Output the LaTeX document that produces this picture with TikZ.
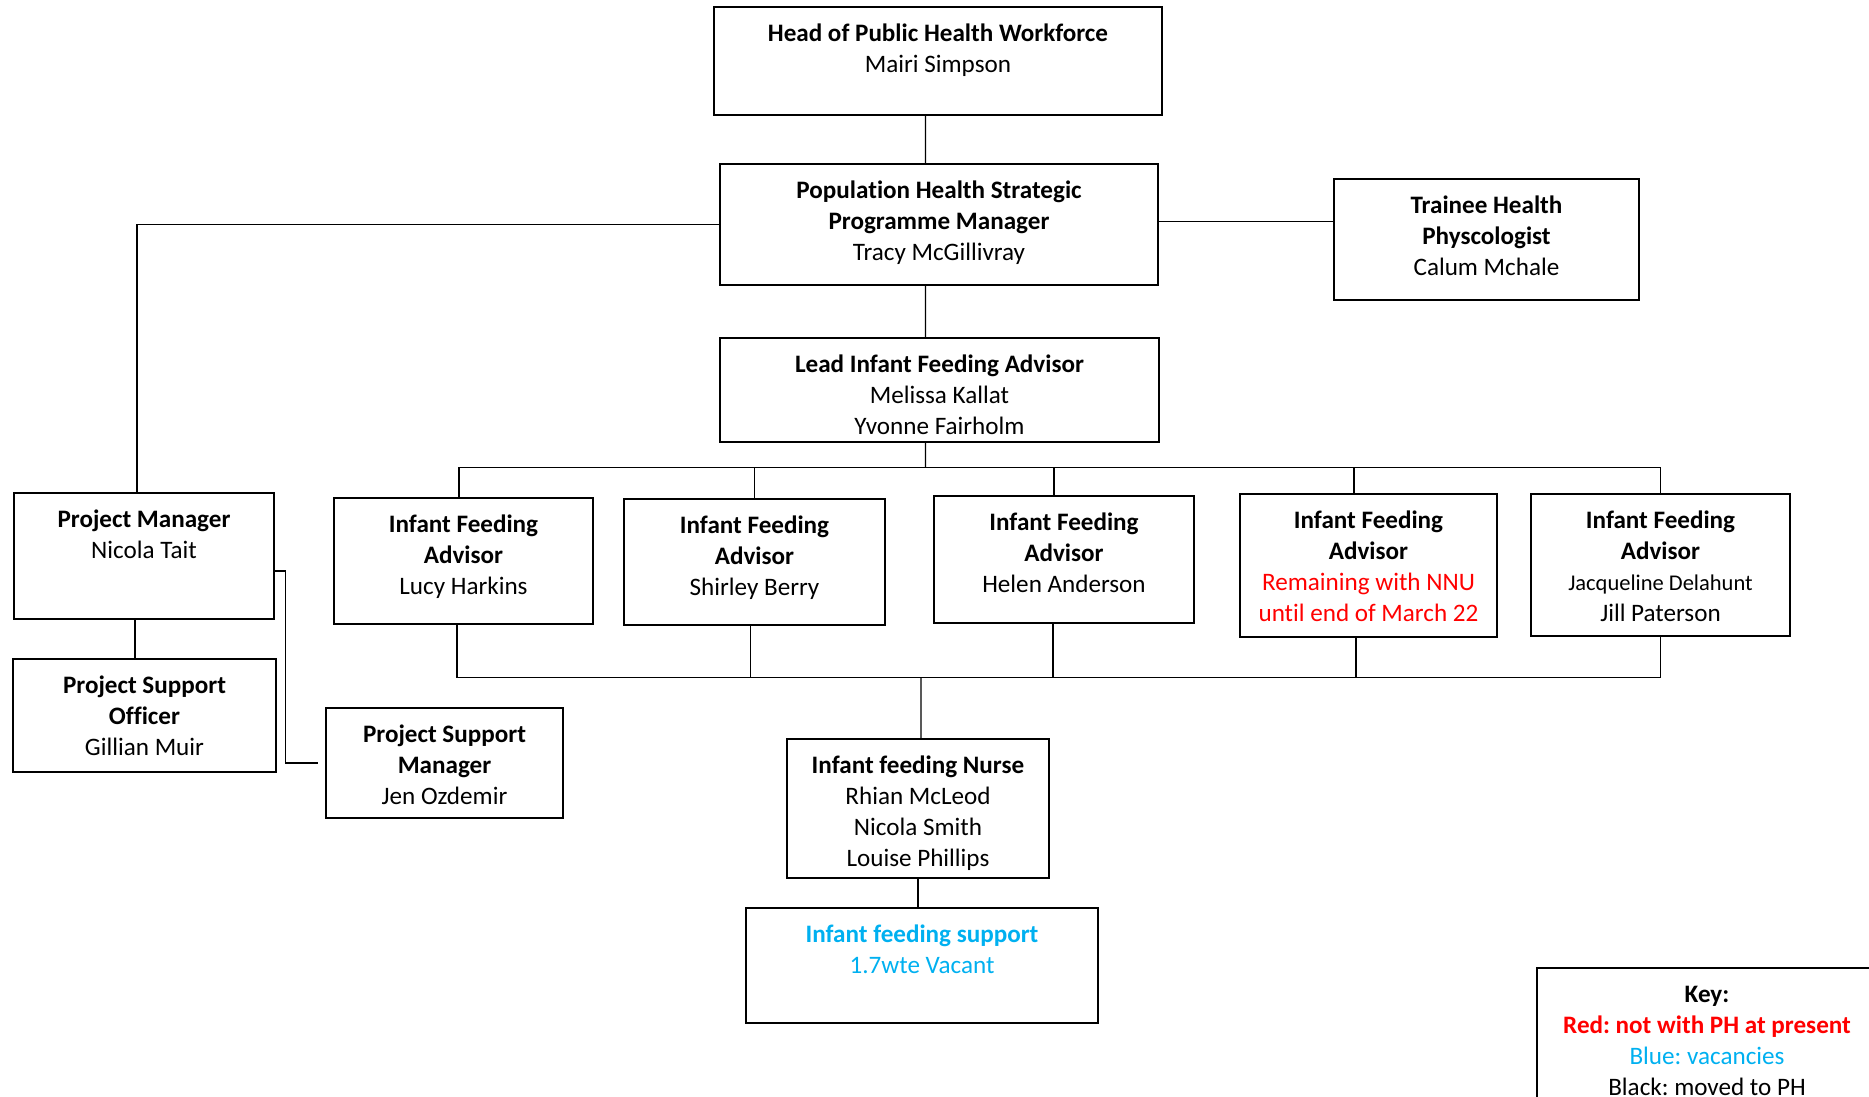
\documentclass[tikz,border=0pt]{standalone}
\usepackage{fontspec}
\setmainfont{Carlito}[Ligatures=NoCommon]
\usepackage{xcolor}
\usetikzlibrary{positioning, calc}
\definecolor{keyRed}{RGB}{255, 0, 0}
\definecolor{keyBlue}{RGB}{0, 176, 240}
\newcommand{\orgfont}{\frenchspacing\fontsize{7.15}{8.8}\selectfont}
\newcommand{\orgsmall}{\fontsize{6.4}{8.4}\selectfont}

\tikzset{
  post/.style={draw, line width=0.45pt, inner sep=0pt},
  posttext/.style={align=center, font=\orgfont, inner sep=0pt, anchor=north, yshift=-1.7mm},
  link/.style={line width=0.35pt}
}

\begin{document}
\begin{tikzpicture}
\useasboundingbox (0,0) rectangle (18.69,-10.96);
% top of the tree
\node[post, minimum width=4.48cm, minimum height=1.08cm, label={[posttext]north:{\textbf{Head of Public Health Workforce}\\Mairi Simpson}}] (head) at (9.38,-0.61) {};
\node[post, minimum width=4.38cm, minimum height=1.21cm, label={[posttext]north:{\textbf{Population Health Strategic}\\\textbf{Programme Manager}\\Tracy McGillivray}}] (pop) at (9.39,-2.245) {};
\node[post, minimum width=3.05cm, minimum height=1.21cm, label={[posttext]north:{\textbf{Trainee Health}\\\textbf{Physcologist}\\Calum Mchale}}] (trainee) at (14.865,-2.395) {};
\node[post, minimum width=4.39cm, minimum height=1.04cm, label={[posttext]north:{\textbf{Lead Infant Feeding Advisor}\\Melissa Kallat\\Yvonne Fairholm}}] (lead) at (9.395,-3.90) {};
% project side
\node[post, minimum width=2.60cm, minimum height=1.26cm, label={[posttext]north:{\textbf{Project Manager}\\Nicola Tait}}] (pm) at (1.44,-5.56) {};
\node[post, minimum width=2.63cm, minimum height=1.13cm, label={[posttext]north:{\textbf{Project Support}\\\textbf{Officer}\\Gillian Muir}}] (pso) at (1.445,-7.155) {};
\node[post, minimum width=2.37cm, minimum height=1.10cm, label={[posttext]north:{\textbf{Project Support}\\\textbf{Manager}\\Jen Ozdemir}}] (psm) at (4.445,-7.63) {};
% advisors
\node[post, minimum width=2.59cm, minimum height=1.26cm, label={[posttext]north:{\textbf{Infant Feeding}\\\textbf{Advisor}\\Lucy Harkins}}] (lucy) at (4.635,-5.61) {};
\node[post, minimum width=2.61cm, minimum height=1.26cm, label={[posttext]north:{\textbf{Infant Feeding}\\\textbf{Advisor}\\Shirley Berry}}] (shirley) at (7.545,-5.62) {};
\node[post, minimum width=2.60cm, minimum height=1.27cm, label={[posttext]north:{\textbf{Infant Feeding}\\\textbf{Advisor}\\Helen Anderson}}] (helen) at (10.64,-5.595) {};
\node[post, minimum width=2.57cm, minimum height=1.43cm, label={[posttext]north:{\textbf{Infant Feeding}\\\textbf{Advisor}\\\textcolor{keyRed}{Remaining with NNU}\\\textcolor{keyRed}{until end of March 22}}}] (nnu) at (13.685,-5.655) {};
\node[post, minimum width=2.59cm, minimum height=1.42cm, label={[posttext]north:{\textbf{Infant Feeding}\\\textbf{Advisor}\\{\orgsmall Jacqueline Delahunt}\\Jill Paterson}}] (jac) at (16.605,-5.65) {};
% nurses
\node[post, minimum width=2.62cm, minimum height=1.39cm, label={[posttext]north:{\textbf{Infant feeding Nurse}\\Rhian McLeod\\Nicola Smith\\Louise Phillips}}] (nurse) at (9.18,-8.085) {};
\node[post, minimum width=3.52cm, minimum height=1.15cm, label={[posttext, text=keyBlue]north:{\textbf{Infant feeding support}\\1.7wte Vacant}}] (support) at (9.22,-9.655) {};
% key
\node[post, minimum width=3.40cm, minimum height=1.60cm, label={[posttext, yshift=-0.1mm]north:{\textbf{Key:}\\\textcolor{keyRed}{\textbf{Red: not with PH at present}}\\\textcolor{keyBlue}{Blue: vacancies}\\Black: moved to PH}}] (key) at (17.07,-10.48) {};

\coordinate (bus) at ($(lead.south)+(-0.14,-0.25)$);
\coordinate (bus2) at ($(nurse.north)+(0.03,0.61)$);

\draw[link] ([xshift=-1.25mm]head.south) -- ([xshift=-1.35mm]pop.north);
\draw[link] (pop.west) -| ([xshift=-0.7mm]pm.north);
\draw[link] ([yshift=0.3mm]pop.east) -- ([yshift=0.3mm]pop.east -| trainee.west);
\draw[link] ([xshift=-1.35mm]pop.south) -- ([xshift=-1.4mm]lead.north);
\draw[link] ([xshift=-1.4mm]lead.south) -- (bus);
% advisors hang from the bus
\draw[link] ([xshift=-0.45mm]lucy.north) |- (bus) -| (jac.north);
\draw[link] (shirley.north) -- (shirley.north |- bus);
\draw[link] ([xshift=-1mm]helen.north) -- ([xshift=-1mm]helen.north |- bus);
\draw[link] ([xshift=-1.45mm]nnu.north) -- ([xshift=-1.45mm]nnu.north |- bus);
\draw[link] ([xshift=-0.65mm]lucy.south) |- (bus2) -| (jac.south);
\draw[link] ([xshift=-0.4mm]shirley.south) -- ([xshift=-0.4mm]shirley.south |- bus2);
\draw[link] ([xshift=-1.1mm]helen.south) -- ([xshift=-1.1mm]helen.south |- bus2);
\draw[link] ([xshift=-1.25mm]nnu.south) -- ([xshift=-1.25mm]nnu.south |- bus2);
\draw[link] (bus2) -- ([xshift=0.3mm]nurse.north);
\draw[link] (nurse.south) -- (nurse.south |- support.north);
\draw[link] ([xshift=-0.9mm]pm.south) -- ([xshift=-0.9mm]pm.south |- pso.north);
\draw[link] ([yshift=-1.5mm]pm.east) -- ++(0.11,0) |- ([xshift=-0.7mm]psm.west);
\end{tikzpicture}
\end{document}
